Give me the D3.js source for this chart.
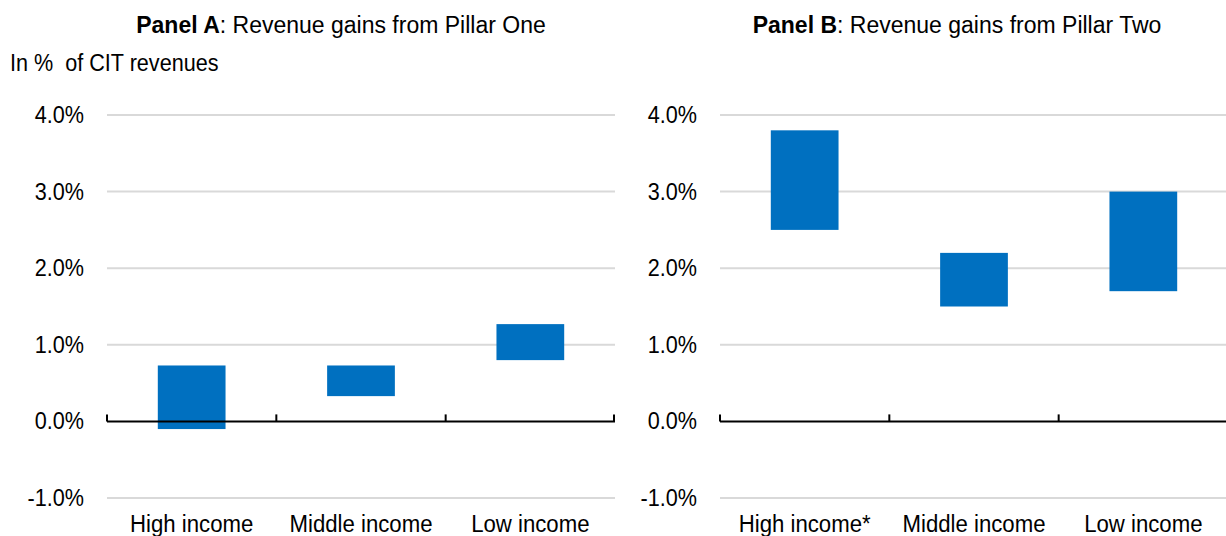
<!doctype html>
<html>
<head>
<meta charset="utf-8">
<script src="https://d3js.org/d3.v7.min.js"></script>
<style>
  body { margin: 0; background: #fff; }
  svg text { font-family: "Liberation Sans", Arial, sans-serif; fill: #000; }
</style>
</head>
<body>
<div id="viz"></div>
<script>

var categoriesA = ['High income', 'Middle income', 'Low income']
var lowA = [-0.1, 0.33, 0.8]
var highA = [0.73, 0.73, 1.27]

var categoriesB = ['High income*', 'Middle income', 'Low income']
var lowB = [2.5, 1.5, 1.7]
var highB = [3.8, 2.2, 3.0]

var yTicks = [-1, 0, 1, 2, 3, 4]

var svg = d3.select('#viz').append('svg')
  .attr('width', 1226)
  .attr('height', 536)

var y = d3.scaleLinear().domain([-1, 4]).range([498, 115])

// condensed text: place at (x, y) and squeeze horizontally
var narrowText = function(sel, x, y, sx) {
  return sel.append('text')
    .attr('transform', 'translate(' + x + ',' + y + ') scale(' + sx + ',1)')
}

var drawPanel = function(opts) {
  var x = d3.scaleBand()
    .domain(opts.cats)
    .range([opts.x0, opts.x1])
    .paddingInner(0.6)
    .paddingOuter(0.3)

  var g = svg.append('g')

  // gridlines
  g.selectAll('.grid')
    .data(yTicks.filter(function(d) { return d != 0; }))
    .enter()
    .append('line')
    .attr('x1', opts.x0)
    .attr('x2', opts.x1)
    .attr('y1', function(d) { return y(d); })
    .attr('y2', function(d) { return y(d); })
    .style('stroke', '#d9d9d9')
    .style('stroke-width', 2)

  // tick labels
  yTicks.forEach(function(d) {
    narrowText(g, opts.x0 - 23, y(d) + 8, 0.9)
      .attr('text-anchor', 'end')
      .style('font-size', '24px')
      .text(d3.format('.1f')(d).replace('\u2212', '-') + '%')
  })

  // bars
  g.selectAll('.bar')
    .data(opts.cats)
    .enter()
    .append('rect')
    .attr('x', function(d) { return x(d); })
    .attr('width', x.bandwidth())
    .attr('y', function(d, i) { return y(opts.high[i]); })
    .attr('height', function(d, i) { return y(opts.low[i]) - y(opts.high[i]); })
    .style('fill', '#0070C0')

  // zero axis with category boundary ticks
  var ax = g.append('g').attr('transform', 'translate(0,' + y(0) + ')')
  ax.append('line')
    .attr('x1', opts.x0).attr('x2', opts.x1)
    .style('stroke', '#000').style('stroke-width', 2)
  var edges = [opts.x0]
  x.domain().forEach(function(d) { edges.push(x(d) + x.bandwidth() + x.step() * 0.3) })
  ax.selectAll('.tk')
    .data(edges)
    .enter()
    .append('line')
    .attr('x1', function(d) { return Math.min(d, opts.x1 - 1); })
    .attr('x2', function(d) { return Math.min(d, opts.x1 - 1); })
    .attr('y1', 0).attr('y2', -7)
    .style('stroke', '#000').style('stroke-width', 2)

  // category labels
  opts.cats.forEach(function(d) {
    narrowText(g, x(d) + x.bandwidth() / 2, 532, 0.906)
      .attr('text-anchor', 'middle')
      .style('font-size', '24.5px')
      .text(d)
  })

  // title
  var t = svg.append('text')
    .attr('x', opts.titleX)
    .attr('y', 33)
    .attr('text-anchor', 'middle')
    .style('font-size', '23px')
  t.append('tspan').style('font-weight', 'bold').text(opts.titleBold)
  t.append('tspan').text(opts.titleRest)
}

drawPanel({
  cats: categoriesA, low: lowA, high: highA,
  x0: 107, x1: 615, titleX: 341,
  titleBold: 'Panel A', titleRest: ': Revenue gains from Pillar One'
})

drawPanel({
  cats: categoriesB, low: lowB, high: highB,
  x0: 720, x1: 1228, titleX: 957,
  titleBold: 'Panel B', titleRest: ': Revenue gains from Pillar Two'
})

narrowText(svg, 10, 71, 0.9)
  .style('font-size', '24px')
  .style('white-space', 'pre')
  .text('In %  of CIT revenues')

</script>
</body>
</html>
